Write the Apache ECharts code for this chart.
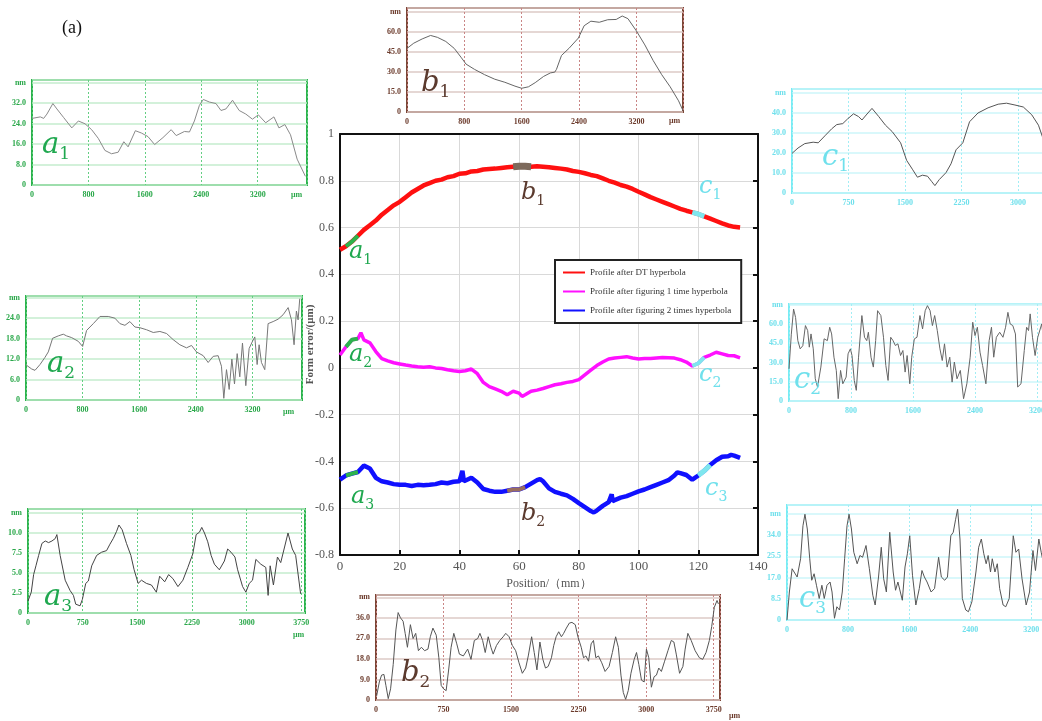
<!DOCTYPE html>
<html><head><meta charset="utf-8">
<script src="https://cdn.jsdelivr.net/npm/echarts@6/dist/echarts.min.js"></script>
<style>html,body{margin:0;padding:0;background:#fff}#c{width:1042px;height:721px}</style>
</head><body><div id="c"></div>
<script>
// ---------- main chart data (Position mm, Form error um) ----------
const seriesNames = ['Profile after DT hyperbola','Profile after figuring 1 time hyperbola','Profile after figuring 2 times hyperbola'];
const redProfile = [[0,0.505],[2,0.52],[4,0.54],[6,0.565],[8,0.59],[10,0.61],[12,0.63],[14,0.655],[16,0.675],[18,0.695],[20,0.71],[22,0.73],[24,0.75],[26,0.765],[28,0.78],[30,0.79],[32,0.8],[34,0.805],[36,0.815],[38,0.82],[40,0.83],[42,0.832],[44,0.84],[46,0.842],[48,0.848],[50,0.85],[52,0.852],[54,0.855],[56,0.858],[58,0.86],[60,0.862],[62,0.862],[64,0.86],[66,0.862],[68,0.86],[70,0.858],[72,0.855],[74,0.852],[76,0.848],[78,0.842],[80,0.838],[82,0.832],[84,0.825],[86,0.82],[88,0.81],[90,0.8],[92,0.792],[94,0.782],[96,0.775],[98,0.765],[100,0.753],[102,0.742],[104,0.73],[106,0.72],[108,0.71],[110,0.7],[112,0.69],[114,0.68],[116,0.672],[118,0.665],[120,0.658],[122,0.648],[124,0.638],[126,0.628],[128,0.618],[130,0.609],[132,0.603],[134,0.6]];
const magentaProfile = [[0,0.055],[2,0.09],[4,0.12],[6,0.125],[7,0.15],[8,0.12],[10,0.107],[12,0.07],[14,0.04],[16,0.03],[18,0.022],[20,0.017],[22,0.012],[24,0.008],[26,0.005],[28,0.003],[30,0.005],[32,0],[34,-0.003],[36,-0.008],[38,-0.012],[40,-0.015],[42,-0.012],[44,-0.005],[46,-0.025],[48,-0.062],[50,-0.08],[52,-0.09],[54,-0.1],[56,-0.115],[58,-0.1],[60,-0.108],[61,-0.122],[62,-0.115],[64,-0.1],[66,-0.095],[68,-0.088],[70,-0.08],[72,-0.072],[74,-0.068],[76,-0.062],[78,-0.058],[80,-0.05],[82,-0.03],[84,-0.01],[86,0.01],[88,0.025],[90,0.038],[92,0.042],[94,0.045],[96,0.048],[98,0.042],[100,0.038],[102,0.04],[104,0.04],[106,0.042],[108,0.044],[110,0.043],[112,0.042],[114,0.035],[116,0.025],[118,0.008],[120,0.02],[122,0.045],[124,0.055],[126,0.067],[128,0.06],[130,0.053],[132,0.052],[134,0.043]];
const blueProfile = [[0,-0.478],[2,-0.46],[4,-0.452],[6,-0.445],[8,-0.418],[10,-0.43],[12,-0.47],[14,-0.485],[16,-0.49],[18,-0.497],[20,-0.5],[22,-0.5],[24,-0.505],[26,-0.5],[28,-0.502],[30,-0.5],[32,-0.497],[34,-0.49],[36,-0.493],[38,-0.487],[40,-0.485],[41,-0.44],[41.5,-0.485],[42,-0.48],[44,-0.47],[46,-0.49],[48,-0.518],[50,-0.525],[52,-0.53],[54,-0.53],[56,-0.525],[58,-0.52],[60,-0.52],[62,-0.51],[64,-0.495],[66,-0.48],[67,-0.475],[68,-0.485],[70,-0.515],[72,-0.53],[74,-0.538],[76,-0.545],[78,-0.56],[80,-0.578],[82,-0.595],[84,-0.612],[85,-0.618],[86,-0.61],[88,-0.59],[90,-0.574],[91,-0.54],[91.3,-0.57],[92,-0.565],[94,-0.555],[96,-0.548],[98,-0.538],[100,-0.528],[102,-0.52],[104,-0.51],[106,-0.5],[108,-0.49],[110,-0.48],[112,-0.46],[113,-0.447],[114,-0.45],[116,-0.458],[118,-0.478],[120,-0.46],[122,-0.44],[124,-0.415],[126,-0.395],[128,-0.38],[130,-0.378],[131,-0.372],[132,-0.375],[134,-0.385]];

// ---------- inset profiles (um, nm) ----------
const a1Profile = [[0,26],[24,25.3],[118,26.6],[165,26],[212,27.7],[296,31.8],[353,29.7],[447,26.4],[564,22.3],[658,25],[752,23.9],[846,21.6],[940,18.2],[1034,13.5],[1128,12.2],[1222,12.8],[1302,16.9],[1363,14.9],[1466,21.2],[1551,20.3],[1645,18.9],[1739,15.8],[1857,18.5],[1974,21.6],[2045,19.3],[2162,20.9],[2233,20.7],[2303,25],[2374,31.1],[2430,33.4],[2515,32.4],[2609,31.8],[2680,29.1],[2750,29.7],[2844,33.1],[2938,29.1],[3032,27.7],[3126,25.7],[3210,27.4],[3314,24.3],[3431,26.6],[3502,22.3],[3586,23.6],[3666,19.6],[3760,10.1],[3877,3.4]];
const b1Profile = [[0,47.7],[94,51.6],[212,54.8],[329,57.4],[424,56],[541,52.9],[659,47.7],[753,41.1],[824,35.9],[941,32],[1082,28],[1224,24.6],[1365,22.3],[1506,19.4],[1600,17.8],[1694,18.9],[1788,22],[1906,26.7],[2000,29.3],[2061,29.9],[2085,32],[2155,42.4],[2259,47.7],[2391,55.5],[2471,64.7],[2565,68.1],[2682,67.3],[2800,69.2],[2918,69.4],[3002,72],[3082,70],[3200,60.8],[3318,50.3],[3435,38.5],[3553,28],[3671,18.9],[3788,8.4],[3850,1]];
const c1Profile = [[0,19.8],[80,22.5],[170,24.7],[281,25.4],[348,25.1],[437,28.6],[527,32.1],[594,34.2],[674,34.7],[737,37],[817,39.6],[884,38.2],[929,36.5],[996,39.5],[1062,42.3],[1152,38.2],[1241,33.9],[1330,30.7],[1442,25.1],[1522,16.3],[1598,11.9],[1665,7.9],[1732,8.9],[1799,8.4],[1853,5.8],[1897,3.7],[1955,6.7],[2045,10.2],[2111,14.6],[2178,21.6],[2268,25.1],[2357,35.6],[2469,40],[2603,42.6],[2737,44.4],[2848,44.9],[2960,44],[3071,43],[3183,39.1],[3272,33.9],[3344,26],[3420,18]];
const a2Profile = [[0,10.3],[80,9.1],[127,8.7],[198,10.4],[268,12.5],[315,14.1],[376,18.1],[456,18.8],[527,19.3],[574,18.8],[645,18.3],[739,17.2],[800,15.7],[856,20.4],[951,22.4],[1045,24.5],[1162,24.5],[1256,24],[1327,22.4],[1398,21.9],[1468,23],[1539,21.4],[1609,21.2],[1704,20.6],[1798,19.8],[1892,20.1],[1986,19.5],[2080,17.7],[2174,16.2],[2268,15.3],[2339,16],[2409,14.1],[2504,13],[2574,11],[2645,12.8],[2715,13],[2762,9.9],[2795,0.5],[2833,8.9],[2871,3.1],[2909,12],[2946,4.7],[2984,13.6],[3021,6.8],[3059,16.7],[3106,4.2],[3153,15.1],[3200,17.2],[3233,18.5],[3266,10.4],[3294,16.2],[3327,11],[3374,8.9],[3421,22.4],[3492,23],[3562,23.7],[3633,25],[3704,27.1],[3751,23.5],[3788,16.2],[3821,26.1],[3845,23.5],[3868,29.7]];
const c2Profile = [[0,25],[30,52],[59,71.6],[85,65],[114,47],[144,40.6],[178,43],[212,58.7],[241,54.8],[262,41.9],[284,52.2],[313,40.6],[339,17.3],[368,10.9],[411,26.4],[453,48.4],[495,47],[525,57.4],[550,52.2],[580,34.1],[610,23.8],[635,1.8],[665,23.8],[694,13.4],[737,18.6],[762,36.7],[792,40.6],[813,35.4],[842,16],[868,8.3],[897,34.1],[940,66.5],[974,49.6],[1003,47],[1024,53.5],[1058,34.1],[1088,26.4],[1118,47],[1143,70.3],[1185,66.5],[1219,49.6],[1249,27.7],[1278,16],[1312,49.6],[1342,47],[1372,43.2],[1405,44.5],[1439,35.4],[1469,39.3],[1498,22.5],[1524,35.4],[1558,13.4],[1583,34.1],[1617,48.4],[1651,49.6],[1689,66.5],[1723,56.1],[1757,70.3],[1786,74.2],[1820,70.3],[1850,58.7],[1879,66.5],[1913,54.8],[1947,40.6],[1977,31.5],[2006,44.5],[2040,26.4],[2074,34.1],[2104,14.7],[2133,30.3],[2167,17.3],[2210,23.8],[2252,1.8],[2294,13.4],[2337,34.1],[2370,61.3],[2400,50.9],[2430,57.4],[2464,38],[2497,27.7],[2540,13.4],[2582,47],[2612,57.4],[2641,34.1],[2675,49.6],[2718,53.5],[2760,49.6],[2794,57.4],[2824,69],[2853,60],[2887,58.7],[2921,52.2],[2950,10.9],[2993,13.4],[3035,39.3],[3065,57.4],[3090,54.8],[3111,67.8],[3141,49.6],[3175,35.4],[3209,49.6],[3260,60],[3300,40]];
const a3Profile = [[0,1.5],[45,2.6],[77,4.8],[109,5.9],[146,7.2],[191,8.7],[237,9],[282,8.8],[328,9],[373,9.3],[396,9.8],[441,7.2],[510,4.1],[578,2.8],[623,2.2],[655,1.1],[714,0.9],[746,1.7],[792,3.7],[828,4],[874,5.9],[942,7.2],[1010,7.6],[1078,7.8],[1124,8.6],[1169,9.3],[1215,10.2],[1247,11],[1292,10.4],[1351,8.7],[1411,7.2],[1456,5.4],[1511,3.7],[1556,4.1],[1624,3.7],[1693,3.5],[1761,2.6],[1806,4.6],[1875,3.9],[1929,4.8],[1988,4.3],[2057,3.3],[2125,4.1],[2193,5.7],[2261,7.4],[2307,9.8],[2352,10.1],[2384,10.7],[2421,10],[2466,8.9],[2512,7.2],[2557,6.1],[2625,5.4],[2694,6.5],[2739,8],[2785,7.6],[2839,7],[2876,5.4],[2944,3.3],[2989,2.6],[3035,3.7],[3080,4.1],[3126,6.7],[3194,6.1],[3262,5.7],[3294,2.2],[3322,5.9],[3367,3.5],[3422,7],[3467,6.3],[3513,8],[3567,10],[3626,8],[3672,7.2],[3740,2.4]];
const b2Profile = [[7,1.8],[37,7.9],[62,10.9],[88,11.2],[110,6.4],[136,0.6],[162,4.9],[191,15.5],[221,30.7],[246,38.3],[272,36],[301,34.5],[324,29.2],[349,23.1],[382,33],[412,26.9],[441,29.2],[471,21.6],[504,23.1],[540,21.6],[577,22.3],[603,27.7],[632,31.5],[669,28.4],[698,18.5],[724,6.4],[750,4.9],[779,4.1],[809,14],[834,23.1],[864,29.2],[897,24.6],[926,20.1],[970,19.3],[1018,22.3],[1055,17.8],[1092,26.1],[1129,26.9],[1154,29.2],[1184,26.1],[1213,20.8],[1246,27.7],[1276,23.1],[1301,20.1],[1338,23.9],[1375,26.1],[1412,27.7],[1441,29.2],[1478,27.7],[1514,23.9],[1551,21.6],[1588,16.3],[1625,11.7],[1662,14],[1691,19.3],[1728,27.7],[1757,20.8],[1787,13.2],[1820,25.4],[1853,17.8],[1882,14],[1912,14.7],[1948,18.5],[1974,23.9],[2000,27.7],[2029,29.9],[2059,27.7],[2084,29.2],[2114,31.5],[2147,33.7],[2176,34],[2213,33],[2242,27.7],[2279,23.1],[2305,18.5],[2331,19.3],[2360,17],[2389,24.6],[2415,26.1],[2441,18.5],[2470,19.3],[2507,16.3],[2544,12.5],[2588,14.7],[2625,20.8],[2661,27.7],[2691,23.1],[2720,10.9],[2746,3.3],[2772,0.3],[2801,4.1],[2831,11.7],[2867,17.8],[2893,20.8],[2919,15.5],[2948,8.7],[2978,7.9],[3003,22.3],[3029,18.5],[3058,5.6],[3088,10.2],[3114,10.9],[3140,14],[3169,12.5],[3205,17],[3242,21.6],[3279,26.1],[3308,25.4],[3334,20.1],[3371,11.7],[3408,14.7],[3433,22.3],[3463,29.2],[3500,26.1],[3544,21.6],[3591,18.5],[3628,17.8],[3665,20.8],[3702,26.1],[3728,32.2],[3757,40.6],[3787,43.6],[3802,42.1]];
const c3Profile = [[0,0],[31,11.2],[67,20.5],[89,21.2],[133,17.2],[178,24.5],[209,37.7],[235,42.3],[266,36.4],[298,24.5],[324,15.9],[355,18.5],[386,13.9],[422,8.6],[457,13.9],[488,8.6],[524,13.9],[564,15.2],[590,11.2],[622,0.7],[653,5.3],[688,4],[724,11.2],[755,24.5],[786,37.7],[813,42.3],[844,36.4],[875,27.1],[919,22.5],[955,25.8],[990,25.1],[1035,29.8],[1079,20.5],[1124,9.9],[1155,6],[1199,17.2],[1235,29.1],[1266,16.5],[1302,11.2],[1346,35.1],[1391,19.2],[1422,11.9],[1453,15.2],[1511,7.9],[1546,21.2],[1577,26.5],[1608,33.7],[1644,17.9],[1688,6],[1733,12.6],[1768,19.8],[1800,17.2],[1835,15.2],[1888,11.2],[1933,12.6],[1986,25.1],[2022,17.2],[2066,15.9],[2102,17.2],[2146,33.7],[2178,35.1],[2209,40.3],[2235,44.3],[2266,32.4],[2297,8.6],[2342,4],[2377,3.3],[2422,7.3],[2475,19.2],[2511,29.1],[2546,32.4],[2578,26.5],[2609,22.5],[2635,25.8],[2666,19.2],[2689,24.5],[2724,19.2],[2755,22.5],[2786,12.6],[2831,6],[2866,5.3],[2911,8.6],[2964,33.7],[2999,27.1],[3035,28.4],[3079,16.5],[3133,6],[3177,11.2],[3222,27.8],[3255,19.8],[3299,32.4],[3330,27.1],[3380,19.8]];

// highlight ranges on main curves (mm)
const highlightRanges = {a1:[2,6], a2:[2,6], a3:[2,6], b1:[58,64], b2:[56,62], c1:[118,122], c2:[118,122], c3:[120,124]};

// ---------- styling / layout ----------
const themes = {
  green:{border:'#2db34d', text:'#2aa84a', h:'#c4ecce', v:'#63cf82'},
  brown:{border:'#7b4636', text:'#6b3a2b', h:'#dccac6', v:'#c98585'},
  cyan:{border:'#78ecf4', text:'#6fe0ec', h:'#ccf6fa', v:'#a2eef5'}
};
const insets = [
  {data:a1Profile, left:32, top:80, width:275, height:105, xMax:3900, xInt:800, yMax:41, yInt:8, theme:'green', line:'#8a8a8a'},
  {data:b1Profile, left:407, top:8, width:276, height:104, xMax:3850, xInt:800, yMax:78, yInt:15, theme:'brown', line:'#666'},
  {data:c1Profile, left:792, top:89, width:290, height:104, xMax:3850, xInt:750, yMax:52, yInt:10, theme:'cyan', line:'#555'},
  {data:a2Profile, left:26, top:296, width:276, height:104, xMax:3900, xInt:800, yMax:30.5, yInt:6, theme:'green', line:'#777'},
  {data:c2Profile, left:789, top:304, width:300, height:97, xMax:3870, xInt:800, yMax:75.5, yInt:15, theme:'cyan', line:'#666'},
  {data:a3Profile, left:28, top:509, width:277, height:104, xMax:3800, xInt:750, yMax:13, yInt:2.5, theme:'green', line:'#444'},
  {data:b2Profile, left:376, top:595, width:344, height:105, xMax:3820, xInt:750, yMax:46, yInt:9, theme:'brown', line:'#555'},
  {data:c3Profile, left:787, top:505, width:300, height:115, xMax:3930, xInt:800, yMax:46, yInt:8.5, theme:'cyan', line:'#555'}
];

const grids = [{left:340, top:134, width:418, height:421, show:false, outerBoundsMode:'none'}];
const xAxes = [
  {gridIndex:0, type:'value', min:0, max:140, interval:20, position:'bottom',
   name:'Position/（mm）', nameLocation:'middle', nameGap:23, nameMoveOverlap:false,
   nameTextStyle:{fontFamily:'Liberation Serif', fontSize:12, color:'#555'},
   axisLine:{onZero:false, lineStyle:{color:'#111', width:2}},
   axisTick:{inside:true, length:5, lineStyle:{color:'#111', width:2}},
   axisLabel:{fontFamily:'Liberation Serif', fontSize:13, color:'#555', margin:5},
   splitLine:{show:true, lineStyle:{color:'#d9d9d9', width:1}}},
  {gridIndex:0, type:'value', min:0, max:140, interval:20, position:'top',
   axisLine:{onZero:false, lineStyle:{color:'#111', width:2}}, axisTick:{show:false}, axisLabel:{show:false}, splitLine:{show:false}}
];
const yAxes = [
  {gridIndex:0, type:'value', min:-0.8, max:1, interval:0.2, position:'left',
   name:'Form error/(μm)', nameLocation:'middle', nameGap:24, nameMoveOverlap:false,
   nameTextStyle:{fontFamily:'Liberation Serif', fontSize:11, color:'#555', fontWeight:'bold'},
   axisLine:{onZero:false, lineStyle:{color:'#111', width:2}}, axisTick:{show:false},
   axisLabel:{fontFamily:'Liberation Serif', fontSize:12, color:'#555', margin:6},
   splitLine:{show:true, lineStyle:{color:'#d9d9d9', width:1}}},
  {gridIndex:0, type:'value', min:-0.8, max:1, interval:0.2, position:'right',
   axisLine:{onZero:false, lineStyle:{color:'#111', width:2}},
   axisTick:{inside:true, length:5, lineStyle:{color:'#111', width:2}},
   axisLabel:{show:false}, splitLine:{show:false}}
];

const mainColors = ['#ff1010', '#ff10ff', '#1010ff'];
const mainData = [redProfile, magentaProfile, blueProfile];
const series = mainData.map((d, i) => ({
  type:'line', name:seriesNames[i], xAxisIndex:0, yAxisIndex:0, data:d, showSymbol:false,
  lineStyle:{color:mainColors[i], width:i === 1 ? 3.5 : 4.5}, itemStyle:{color:mainColors[i]}, z:3, silent:true
}));
function seg(src, key, color, w) {
  const r = highlightRanges[key];
  series.push({type:'line', xAxisIndex:0, yAxisIndex:0, data:src.filter(p => p[0] >= r[0] && p[0] <= r[1]),
    showSymbol:false, lineStyle:{color:color, width:w}, z:4, silent:true});
}
seg(redProfile, 'a1', '#2db34d', 4); seg(magentaProfile, 'a2', '#2db34d', 4); seg(blueProfile, 'a3', '#2db34d', 4);
seg(redProfile, 'b1', '#7d6a5c', 7); seg(blueProfile, 'b2', '#9a6e5e', 4);
seg(redProfile, 'c1', '#7fe6ee', 5); seg(magentaProfile, 'c2', '#7fe6ee', 4); seg(blueProfile, 'c3', '#7fe6ee', 5);

const font = 'Liberation Serif';
insets.forEach((c) => {
  const gi = grids.length, t = themes[c.theme];
  const topLabel = Math.floor(c.yMax / c.yInt + 1e-9) * c.yInt;
  grids.push({left:c.left, top:c.top, width:c.width, height:c.height, show:true, outerBoundsMode:'none',
    borderColor:t.border, borderWidth:2, backgroundColor:'#fff'});
  const xi = xAxes.length, yi = yAxes.length;
  xAxes.push({gridIndex:gi, type:'value', min:0, max:c.xMax, interval:c.xInt,
    axisLine:{show:false, onZero:false}, axisTick:{show:false},
    axisLabel:{fontFamily:font, fontSize:8, fontWeight:'bold', color:t.text, margin:6,
      formatter:v => { const q = v / c.xInt; return Math.abs(q - Math.round(q)) > 1e-6 ? '' : String(v); }},
    splitLine:{show:true, lineStyle:{color:t.v, width:1, type:[2,2]}}});
  yAxes.push({gridIndex:gi, type:'value', min:0, max:c.yMax, interval:c.yInt,
    axisLine:{show:false, onZero:false}, axisTick:{show:false},
    axisLabel:{fontFamily:font, fontSize:8, fontWeight:'bold', color:t.text, margin:6,
      formatter:v => { const q = v / c.yInt; if (Math.abs(q - Math.round(q)) > 1e-6) return '';
        if (Math.abs(v - topLabel) < 1e-6) return 'nm'; return v === 0 ? '0' : v.toFixed(1); }},
    splitLine:{show:true, lineStyle:{color:t.h, width:1.5}}});
  series.push({type:'line', xAxisIndex:xi, yAxisIndex:yi, data:c.data, showSymbol:false,
    lineStyle:{color:c.line, width:1}, silent:true});
});

// ---------- annotation text ----------
function lbl(x, y, letter, sub, color, size) {
  return {type:'text', left:x, top:y, z:100, style:{
    text:'{m|' + letter + '}{s|' + sub + '}',
    rich:{
      m:{fontFamily:'DejaVu Serif', fontStyle:'italic', fontSize:size, fill:color, lineHeight:size + 6},
      s:{fontFamily:'DejaVu Serif', fontSize:Math.round(size * 0.6), fill:color, verticalAlign:'bottom', lineHeight:Math.round(size * 0.6) + 2}
    }}};
}
function unit(x, y, color) {
  return {type:'text', left:x, top:y, z:100, style:{text:'μm', fontFamily:font, fontSize:8, fontWeight:'bold', fill:color}};
}
const B = '#5b3a2e', C = '#6fe0ec';
const graphic = [
  {type:'text', left:62, top:19, style:{text:'(a)', fontFamily:font, fontSize:18, fill:'#111'}},
  lbl(349, 240, 'a', '1', '#1fa84f', 24), lbl(349, 343, 'a', '2', '#1fa84f', 24), lbl(351, 485, 'a', '3', '#1fa84f', 24),
  lbl(521, 181, 'b', '1', B, 24), lbl(521, 502, 'b', '2', B, 24),
  lbl(699, 175, 'c', '1', C, 24), lbl(699, 363, 'c', '2', C, 24), lbl(705, 477, 'c', '3', C, 24),
  lbl(42, 131, 'a', '1', '#1fa84f', 29), lbl(47, 350, 'a', '2', '#1fa84f', 29), lbl(44, 583, 'a', '3', '#1fa84f', 29),
  lbl(421, 69, 'b', '1', B, 29), lbl(401, 659, 'b', '2', B, 29),
  lbl(822, 143, 'c', '1', C, 29), lbl(794, 366, 'c', '2', C, 29), lbl(799, 585, 'c', '3', C, 29),
  unit(291, 191, themes.green.text), unit(283, 408, themes.green.text), unit(293, 631, themes.green.text),
  unit(669, 117, themes.brown.text), unit(729, 712, themes.brown.text)
];

const chart = echarts.init(document.getElementById('c'), null, {renderer:'canvas'});
chart.setOption({
  animation:false, backgroundColor:'#fff',
  grid:grids, xAxis:xAxes, yAxis:yAxes, series:series, graphic:graphic,
  legend:{data:seriesNames, orient:'vertical', left:555, top:260, padding:[8,10,8,8], itemGap:10,
    itemWidth:22, itemHeight:2, icon:'rect', borderColor:'#222', borderWidth:2, backgroundColor:'#fff',
    textStyle:{fontFamily:font, fontSize:9, color:'#333'}, selectedMode:false}
});
</script></body></html>
